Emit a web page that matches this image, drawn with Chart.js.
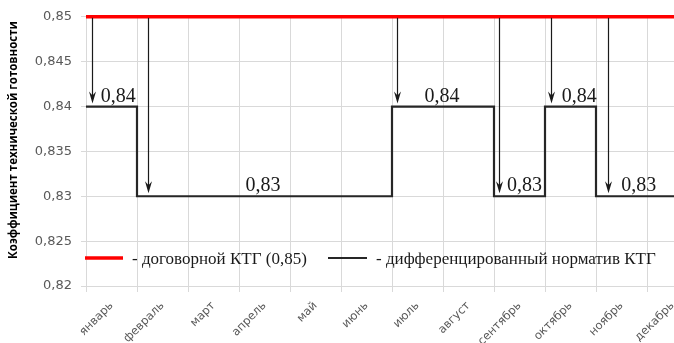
<!DOCTYPE html>
<html>
<head>
<meta charset="utf-8">
<script src="https://cdn.jsdelivr.net/npm/chart.js@4"></script>
<style>
  html, body { margin: 0; padding: 0; background: #fff; overflow: hidden; }
  #wrap { position: relative; width: 720px; height: 343px; }
</style>
</head>
<body>
<div id="wrap"><canvas id="c"></canvas></div>
<script>
// Месяцы года
const months = ['январь', 'февраль', 'март', 'апрель', 'май', 'июнь',
                'июль', 'август', 'сентябрь', 'октябрь', 'ноябрь', 'декабрь'];
// Дифференцированный норматив КТГ по месяцам
const normValues = [0.84, 0.83, 0.83, 0.83, 0.83, 0.83, 0.84, 0.84, 0.83, 0.84, 0.83, 0.83];
// Договорной КТГ
const contractValue = 0.85;
// Деления оси значений
const yTicks = [0.82, 0.825, 0.83, 0.835, 0.84, 0.845, 0.85];
// Положения стрелок перехода (в долях месяцев от начала года)
const arrowX = [0.12, 1.21, 6.1, 8.1, 9.12, 10.23];
// Положения подписей уровней норматива (в долях месяцев)
const labelX = [0.63, 3.47, 6.98, 8.6, 9.67, 10.84];
// Названия рядов
const seriesNames = ['- договорной КТГ (0,85)', '- дифференцированный норматив КТГ'];
const axisTitle = 'Коэффициент технической готовности';

const fmt = (v, d) => v.toFixed(d).replace('.', ',');
const levelAt = x => normValues[Math.min(normValues.length - 1, Math.floor(x))];

const stepPoints = normValues.map((v, i) => ({ x: i, y: v }));
stepPoints.push({ x: normValues.length, y: normValues[normValues.length - 1] });

const INK = '#1a1a1a';
const SERIF = '"Liberation Serif", "Times New Roman", serif';

// Стрелки от договорного уровня к нормативу
const arrowsPlugin = {
  id: 'arrows',
  afterDatasetsDraw(chart) {
    const { ctx } = chart;
    const xs = chart.scales.x2, ys = chart.scales.y;
    const yTop = ys.getPixelForValue(contractValue) + 1;
    ctx.save();
    ctx.strokeStyle = INK;
    ctx.fillStyle = INK;
    ctx.lineWidth = 1.2;
    arrowX.forEach(ax => {
      const px = Math.round(xs.getPixelForValue(ax)) + 0.5;
      const tip = ys.getPixelForValue(levelAt(ax)) - 3;
      ctx.beginPath();
      ctx.moveTo(px, yTop);
      ctx.lineTo(px, tip - 6);
      ctx.stroke();
      ctx.beginPath();
      ctx.moveTo(px, tip);
      ctx.lineTo(px - 3.5, tip - 12);
      ctx.lineTo(px, tip - 8);
      ctx.lineTo(px + 3.5, tip - 12);
      ctx.closePath();
      ctx.fill();
    });
    ctx.restore();
  }
};

// Подписи уровней норматива
const levelLabelsPlugin = {
  id: 'levelLabels',
  afterDatasetsDraw(chart) {
    const { ctx } = chart;
    const xs = chart.scales.x2, ys = chart.scales.y;
    ctx.save();
    ctx.fillStyle = INK;
    ctx.font = '20px ' + SERIF;
    ctx.textAlign = 'center';
    ctx.textBaseline = 'alphabetic';
    labelX.forEach(lx => {
      const v = levelAt(lx);
      ctx.fillText(fmt(v, 2), xs.getPixelForValue(lx), ys.getPixelForValue(v) - 5);
    });
    ctx.restore();
  }
};

// Легенда внутри области построения
const innerLegendPlugin = {
  id: 'innerLegend',
  afterDatasetsDraw(chart) {
    const { ctx, chartArea } = chart;
    const y = chartArea.bottom - 28;
    const x0 = chartArea.left - 1;
    const items = [
      { ds: chart.data.datasets[0], x: x0, w: 38, text: 132 - 86 },
      { ds: chart.data.datasets[1], x: x0 + 243, w: 39, text: 376 - 86 }
    ];
    ctx.save();
    ctx.font = '17px ' + SERIF;
    ctx.textBaseline = 'middle';
    ctx.textAlign = 'left';
    items.forEach(it => {
      ctx.strokeStyle = it.ds.borderColor;
      ctx.lineWidth = it.ds.borderWidth;
      ctx.beginPath();
      ctx.moveTo(it.x, y);
      ctx.lineTo(it.x + it.w, y);
      ctx.stroke();
      ctx.fillStyle = INK;
      ctx.fillText(it.ds.label, chartArea.left + it.text, y + 1.5);
    });
    ctx.restore();
  }
};

// Заголовок оси значений
const axisTitlePlugin = {
  id: 'axisTitle',
  afterDraw(chart) {
    const { ctx } = chart;
    ctx.save();
    ctx.translate(14, 140);
    ctx.rotate(-Math.PI / 2);
    ctx.fillStyle = '#000';
    ctx.font = 'bold 11.5px "Open Sans"';
    ctx.textAlign = 'center';
    ctx.textBaseline = 'middle';
    ctx.fillText(axisTitle, 0, 0);
    ctx.restore();
  }
};

new Chart(document.getElementById('c'), {
  type: 'line',
  data: {
    labels: months,
    datasets: [
      {
        label: seriesNames[0],
        data: [{ x: 0, y: contractValue }, { x: months.length, y: contractValue }],
        xAxisID: 'x2',
        borderColor: '#ff0000',
        borderWidth: 3.5,
        pointRadius: 0,
        clip: 4
      },
      {
        label: seriesNames[1],
        data: stepPoints,
        xAxisID: 'x2',
        stepped: 'before',
        borderColor: '#262626',
        borderWidth: 2.2,
        pointRadius: 0,
        clip: 4
      }
    ]
  },
  options: {
    responsive: true,
    maintainAspectRatio: false,
    animation: false,
    layout: { padding: { top: 16, right: 22, left: 0, bottom: 0 } },
    plugins: {
      legend: { display: false },
      tooltip: { enabled: false }
    },
    scales: {
      x: {
        type: 'category',
        offset: true,
        grid: { offset: true, color: '#d9d9d9', tickLength: 6, tickColor: '#d9d9d9' },
        border: { display: false },
        ticks: {
          minRotation: 45, maxRotation: 45, autoSkip: false,
          color: '#595959', padding: 7,
          font: { family: '"DejaVu Sans"', size: 11.5 }
        },
        afterFit(s) { s.height = 57; }
      },
      x2: {
        type: 'linear', min: 0, max: months.length, display: false
      },
      y: {
        min: yTicks[0], max: yTicks[yTicks.length - 1],
        afterBuildTicks(s) { s.ticks = yTicks.map(v => ({ value: v })); },
        grid: { color: '#d9d9d9', tickLength: 5, tickColor: '#d9d9d9' },
        border: { display: false },
        ticks: {
          color: '#595959', padding: 9,
          font: { family: '"DejaVu Sans"', size: 13 },
          callback: v => String(+v.toFixed(3)).replace('.', ',')
        },
        afterFit(s) { s.width = 86; }
      }
    }
  },
  plugins: [arrowsPlugin, levelLabelsPlugin, innerLegendPlugin, axisTitlePlugin]
});
</script>
</body>
</html>
